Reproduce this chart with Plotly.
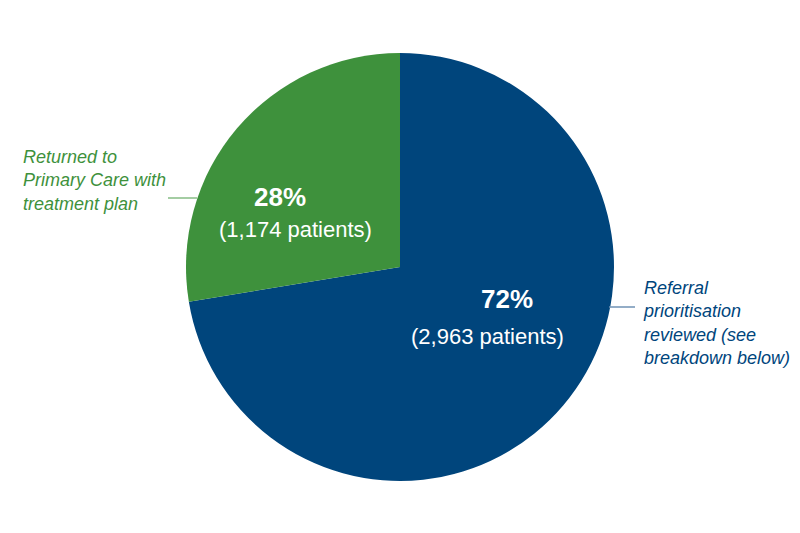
import plotly.graph_objs as go

# slice data
labels = ['Referral prioritisation reviewed (see breakdown below)',
          'Returned to Primary Care with treatment plan']
share = [72.4, 27.6]          # slice sizes as drawn, in percent
patients = [2963, 1174]
colours = ['#00457C', '#3E913C']
label_lines = [['Referral', 'prioritisation', 'reviewed (see', 'breakdown below)'],
               ['Returned to', 'Primary Care with', 'treatment plan']]

W, H = 800, 533
T, B = 53, 52
FONT = 'Liberation Sans, Arial, sans-serif'

pct = ['{:.0f}%'.format(s) for s in share]
counts = ['({:,} patients)'.format(p) for p in patients]

trace = go.Pie(
    labels=labels,
    values=share,
    customdata=patients,
    marker=dict(colors=colours, line=dict(width=0)),
    sort=False,
    direction='clockwise',
    rotation=0,
    textinfo='none',
    hovertemplate='%{label}<br>%{customdata:,} patients<extra></extra>',
    showlegend=False,
)


def px(x, y):
    # pixel position -> paper coords (paper is the plot area inside the margins)
    return x / W, (H - B - y) / (H - T - B)


def note(text, x, y, size, colour, bold=False, italic=False, xanchor='center', yanchor='middle'):
    xx, yy = px(x, y)
    return dict(text='<b>' + text + '</b>' if bold else text,
                x=xx, y=yy, xref='paper', yref='paper',
                xanchor=xanchor, yanchor=yanchor, align='left', showarrow=False,
                font=dict(family=FONT, size=size, color=colour,
                          style='italic' if italic else 'normal'))


def leader(x0, x1, y, colour):
    a, yy = px(x0, y)
    b, _ = px(x1, y)
    return dict(type='line', xref='paper', yref='paper',
                x0=a, x1=b, y0=yy, y1=yy, line=dict(color=colour, width=1.5))


annotations = [
    # inside labels
    note(pct[1], 280, 197, 26, 'white', bold=True),
    note(counts[1], 295, 229, 22, 'white'),
    note(pct[0], 507, 299, 26, 'white', bold=True),
    note(counts[0], 487, 336, 22, 'white'),
    # outside labels
    note('<br>'.join(label_lines[1]), 21, 145, 18, colours[1], italic=True,
         xanchor='left', yanchor='top'),
    note('<br>'.join(label_lines[0]), 641, 276, 18, colours[0], italic=True,
         xanchor='left', yanchor='top'),
]

layout = go.Layout(
    width=W, height=H,
    margin=dict(l=0, r=0, t=T, b=B),
    paper_bgcolor='white',
    font=dict(family=FONT),
    annotations=annotations,
    shapes=[
        leader(168, 197, 198, '#86BC84'),
        leader(609, 635, 307, '#6F92B4'),
    ],
)

fig = go.Figure(data=[trace], layout=layout)
fig.write_html('out.html', config={'displayModeBar': False},
               post_script="document.body.style.margin='0';")
